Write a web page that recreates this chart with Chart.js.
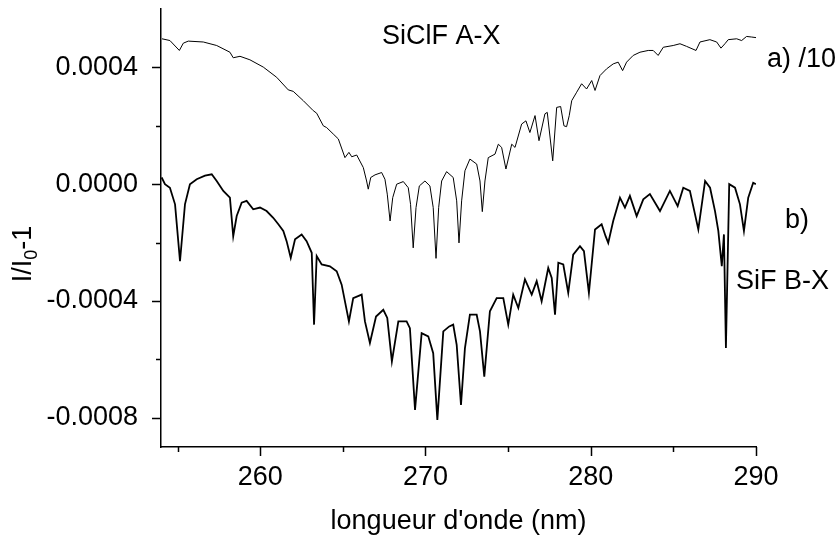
<!DOCTYPE html>
<html>
<head>
<meta charset="utf-8">
<script src="https://cdn.jsdelivr.net/npm/chart.js@4.4.1/dist/chart.umd.min.js"></script>
<style>
html,body{margin:0;padding:0;background:#fff;}
#wrap{width:837px;height:536px;position:relative;}
</style>
</head>
<body>
<div id="wrap"><canvas id="c" width="837" height="536"></canvas></div>
<script>
// ---- Data (wavelength in nm, I/I0-1) ----
const aX = [254.06,254.54,255.11,255.35,255.65,256.56,257.37,258.17,258.37,258.78,259.38,260.19,261.00,261.70,262.00,262.61,263.21,263.42,263.82,264.02,264.42,264.73,265.13,265.37,265.54,265.84,
266.24,266.44,266.54,266.69,266.95,267.35,267.55,267.69,267.86,268.02,268.26,268.66,268.96,269.10,269.26,269.43,269.63,269.97,270.27,270.47,270.64,270.80,270.98,271.28,271.68,271.89,272.03,272.19,272.39,272.69,273.10,273.30,273.44,273.60,273.80,
274.21,274.41,274.61,274.87,275.22,275.42,275.82,276.08,276.32,276.63,276.87,277.23,277.37,277.70,277.94,278.18,278.38,278.54,278.70,278.85,279.15,279.45,279.75,280.06,280.26,280.56,280.96,281.36,281.66,281.93,282.17,282.57,282.98,283.48,283.78,284.08,284.39,284.99,285.40,285.80,286.37,286.61,287.21,287.62,287.88,288.12,288.32,288.83,289.13,289.43,289.74,290.0];
const aY = [4.98e-4,4.92e-4,4.58e-4,4.83e-4,4.90e-4,4.87e-4,4.75e-4,4.52e-4,4.33e-4,4.38e-4,4.26e-4,4.01e-4,3.66e-4,3.23e-4,3.18e-4,2.86e-4,2.52e-4,2.43e-4,2.00e-4,1.94e-4,1.72e-4,1.55e-4,0.91e-4,1.09e-4,0.94e-4,1.00e-4,
0.57e-4,0.11e-4,-0.17e-4,0.23e-4,0.32e-4,0.40e-4,0.17e-4,-0.34e-4,-1.26e-4,-0.46e-4,0,0.09e-4,-0.12e-4,-0.69e-4,-2.18e-4,-0.80e-4,-0.06e-4,0.11e-4,-0.06e-4,-0.80e-4,-2.54e-4,-0.80e-4,0.11e-4,0.43e-4,0.23e-4,-0.57e-4,-2.01e-4,-0.57e-4,0.46e-4,0.86e-4,0.69e-4,0.11e-4,-0.94e-4,0.11e-4,0.91e-4,
1.03e-4,1.37e-4,1.26e-4,0.52e-4,1.37e-4,1.26e-4,2.06e-4,2.17e-4,1.77e-4,2.35e-4,1.49e-4,2.41e-4,2.46e-4,0.80e-4,2.63e-4,2.66e-4,2.00e-4,1.97e-4,2.35e-4,2.86e-4,3.15e-4,3.44e-4,3.26e-4,3.55e-4,3.21e-4,3.72e-4,3.95e-4,4.12e-4,4.18e-4,3.89e-4,4.18e-4,4.41e-4,4.52e-4,4.58e-4,4.58e-4,4.41e-4,4.69e-4,4.75e-4,4.81e-4,4.72e-4,4.58e-4,4.87e-4,4.95e-4,4.87e-4,4.66e-4,4.81e-4,4.95e-4,4.98e-4,4.92e-4,5.06e-4,5.04e-4,5.02e-4];

const bX = [254.04,254.24,254.54,254.85,255.15,255.45,255.75,256.16,256.66,257.07,257.37,257.77,258.17,258.37,258.58,258.88,259.18,259.58,259.99,260.39,260.79,261.10,261.40,261.60,261.85,262.11,262.51,262.81,263.12,263.26,263.42,263.72,264.22,264.63,264.93,265.37,265.63,266.14,266.34,266.64,267.01,267.45,267.69,267.97,268.36,268.86,269.06,269.37,269.77,270.17,270.47,270.72,271.08,271.44,271.68,271.89,272.15,272.39,272.69,273.10,273.30,273.56,273.90,274.31,274.71,275.01,275.31,275.62,276.02,276.43,276.73,277.03,277.43,277.64,277.84,278.04,278.34,278.64,278.94,279.35,279.59,279.89,280.26,280.66,280.90,281.06,281.36,281.77,282.07,282.37,282.78,283.18,283.58,284.19,284.79,285.26,285.60,286.00,286.51,286.92,287.22,287.52,287.72,287.93,288.06,288.18,288.38,288.73,289.03,289.27,289.53,289.83,289.99];
const bY = [0.23e-4,0,-0.12e-4,-0.69e-4,-2.64e-4,-0.69e-4,0,0.17e-4,0.29e-4,0.34e-4,0.11e-4,-0.23e-4,-0.46e-4,-1.78e-4,-1.09e-4,-0.63e-4,-0.57e-4,-0.86e-4,-0.80e-4,-0.92e-4,-1.15e-4,-1.37e-4,-1.60e-4,-1.95e-4,-2.52e-4,-1.89e-4,-1.72e-4,-1.95e-4,-2.35e-4,-4.81e-4,-2.46e-4,-2.75e-4,-2.81e-4,-2.98e-4,-3.44e-4,-4.70e-4,-3.90e-4,-3.78e-4,-4.70e-4,-5.44e-4,-4.53e-4,-4.30e-4,-4.58e-4,-6.07e-4,-4.70e-4,-4.70e-4,-4.93e-4,-7.73e-4,-5.10e-4,-5.21e-4,-5.79e-4,-8.07e-4,-5.04e-4,-4.87e-4,-4.81e-4,-5.50e-4,-7.56e-4,-5.61e-4,-4.47e-4,-4.47e-4,-5.04e-4,-6.59e-4,-4.35e-4,-3.90e-4,-3.90e-4,-4.81e-4,-3.78e-4,-4.24e-4,-3.26e-4,-3.78e-4,-3.32e-4,-4.01e-4,-2.87e-4,-3.21e-4,-4.47e-4,-2.69e-4,-2.75e-4,-3.72e-4,-2.41e-4,-2.12e-4,-2.29e-4,-3.72e-4,-1.55e-4,-1.37e-4,-1.78e-4,-2.01e-4,-1.26e-4,-0.46e-4,-0.80e-4,-0.40e-4,-1.09e-4,-0.52e-4,-0.34e-4,-0.92e-4,-0.23e-4,-0.75e-4,-0.12e-4,-0.23e-4,-1.55e-4,0.11e-4,-0.12e-4,-0.92e-4,-1.60e-4,-2.81e-4,-1.72e-4,-5.61e-4,0,-0.12e-4,-0.69e-4,-1.60e-4,-0.46e-4,0.05e-4,0];

const xMajorTicks = [260, 270, 280, 290];
const xMinorTicks = [255, 265, 275, 285];
const yMajorTicks = [-0.0008, -0.0004, 0.0000, 0.0004];
const yMinorTicks = [-0.0006, -0.0002, 0.0002];
const xTitle = "longueur d'onde (nm)";
const annotations = ["SiClF A-X", "a) /10", "b)", "SiF B-X"];

// ---- Chart ----
const FONT = "'Liberation Sans', Arial, sans-serif";
const FS = 27;

function pts(xs, ys){ return xs.map((x,i)=>({x:x, y:ys[i]})); }
function zeroPad(s){ s.paddingTop = 0; s.paddingBottom = 0; s.paddingLeft = 0; s.paddingRight = 0; }

const decor = {
  id: 'decor',
  afterDraw(chart){
    const ctx = chart.ctx, xs = chart.scales.x, ys = chart.scales.y;
    const ca = chart.chartArea;
    ctx.save();
    ctx.strokeStyle = '#000';
    ctx.lineWidth = 1.5;
    ctx.beginPath();
    xMajorTicks.forEach(v=>{const p=Math.round(xs.getPixelForValue(v))+0.5; ctx.moveTo(p, ca.bottom); ctx.lineTo(p, ca.bottom+9);});
    xMinorTicks.forEach(v=>{const p=Math.round(xs.getPixelForValue(v))+0.5; ctx.moveTo(p, ca.bottom); ctx.lineTo(p, ca.bottom+5);});
    yMajorTicks.forEach(v=>{const p=Math.round(ys.getPixelForValue(v))+0.5; ctx.moveTo(ca.left, p); ctx.lineTo(ca.left-9, p);});
    yMinorTicks.forEach(v=>{const p=Math.round(ys.getPixelForValue(v))+0.5; ctx.moveTo(ca.left, p); ctx.lineTo(ca.left-5, p);});
    ctx.stroke();

    ctx.fillStyle = '#000';
    ctx.font = FS + 'px ' + FONT;
    ctx.textBaseline = 'alphabetic';
    ctx.textAlign = 'center';
    ctx.fillText(xTitle, (ca.left+ca.right)/2, 529);
    ctx.textAlign = 'left';
    ctx.fillText(annotations[0], 382, 44);
    ctx.fillText(annotations[1], 767, 67);
    ctx.fillText(annotations[2], 785, 228);
    ctx.fillText(annotations[3], 736, 289);
    // y title: I/I0-1 rotated
    ctx.save();
    ctx.translate(31, 254);
    ctx.rotate(-Math.PI/2);
    ctx.font = FS + 'px ' + FONT;
    const w1 = ctx.measureText('I/I').width;
    ctx.font = '18px ' + FONT;
    const w2 = ctx.measureText('0').width;
    ctx.font = FS + 'px ' + FONT;
    const w3 = ctx.measureText('-1').width;
    let x0 = -(w1+w2+w3)/2;
    ctx.fillText('I/I', x0, 0);
    ctx.font = '18px ' + FONT;
    ctx.fillText('0', x0+w1, 6);
    ctx.font = FS + 'px ' + FONT;
    ctx.fillText('-1', x0+w1+w2, 0);
    ctx.restore();
    ctx.restore();
  }
};

new Chart(document.getElementById('c'), {
  type: 'line',
  data: {
    datasets: [
      {data: pts(aX, aY), borderColor:'#000', borderWidth:1, pointRadius:0, tension:0, fill:false},
      {data: pts(bX, bY), borderColor:'#000', borderWidth:1.8, pointRadius:0, tension:0, fill:false}
    ]
  },
  options: {
    responsive: false,
    animation: false,
    events: [],
    layout: {padding: {left:0, right:81, top:9, bottom:0}},
    plugins: {legend:{display:false}, tooltip:{enabled:false}, title:{display:false}},
    scales: {
      x: {
        type:'linear', min:254, max:290,
        grid:{display:false},
        border:{display:true, color:'#000', width:1.5},
        afterBuildTicks: s => { s.ticks = xMajorTicks.map(v=>({value:v})); },
        afterFit: s => { s.height = 89; zeroPad(s); },
        ticks:{color:'#000', font:{family:FONT, size:FS}, padding:6, maxRotation:0, autoSkip:false, callback:v=>String(v)}
      },
      y: {
        type:'linear', min:-0.0009, max:0.0006,
        grid:{display:false},
        border:{display:true, color:'#000', width:1.5},
        afterBuildTicks: s => { s.ticks = yMajorTicks.map(v=>({value:v})); },
        afterFit: s => { s.width = 161; zeroPad(s); },
        ticks:{color:'#000', font:{family:FONT, size:FS}, padding:15, autoSkip:false, callback:v=>Number(v).toFixed(4)}
      }
    }
  },
  plugins: [decor]
});
</script>
</body>
</html>
